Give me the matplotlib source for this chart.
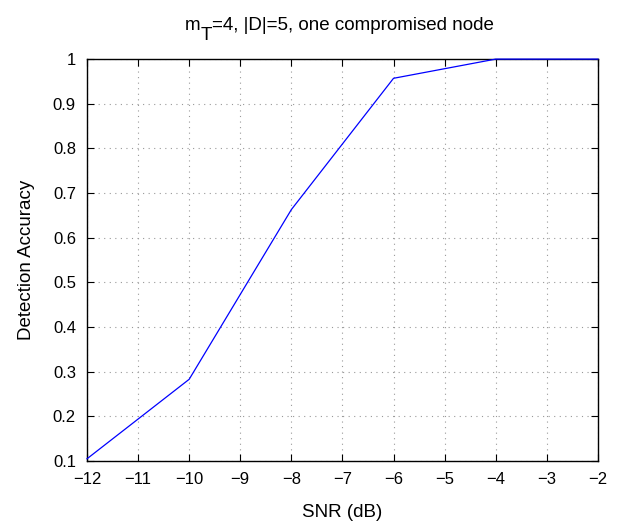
import matplotlib.pyplot as plt

plt.rcParams['font.family'] = ['Liberation Sans', 'DejaVu Sans']

snr_db = [-12, -10, -8, -6, -4, -2]
accuracy = [0.105, 0.283, 0.663, 0.957, 1.0, 1.0]

W, H = 617, 523
fig = plt.figure(figsize=(W / 100, H / 100), dpi=100)
ax = fig.add_axes([0.141, 0.1185, 0.828, 0.7685])

ax.plot(snr_db, accuracy, color='blue', linewidth=0.9, clip_on=False, zorder=5)

ax.set_xlim(-12, -2)
ax.set_ylim(0.1, 1.0)
ax.set_xticks(range(-12, -1))
ax.set_yticks([0.1, 0.2, 0.3, 0.4, 0.5, 0.6, 0.7, 0.8, 0.9, 1.0])
ax.set_yticklabels(['0.1', '0.2', '0.3', '0.4', '0.5', '0.6', '0.7', '0.8', '0.9', '1'])
ax.tick_params(direction='in', top=True, right=True, labelsize=12, length=5, width=0.8)
ax.tick_params(axis='x', pad=8)
ax.tick_params(axis='y', pad=8)
ax.grid(True, linestyle=(0, (1, 4)), color='#999999', linewidth=0.8)
for s in ax.spines.values():
    s.set_linewidth(1.0)

ax.set_xlabel('SNR (dB)', fontsize=13.5, labelpad=12)
ax.set_ylabel('Detection Accuracy', fontsize=13.5, labelpad=13)

# title in pieces: MATLAB-style subscript T, full size and dropped below baseline
r = fig.canvas.get_renderer()
x0, base = 185, 30
t1 = fig.text(x0 / W, 1 - base / H, 'm', fontsize=13.5, va='baseline')
w1 = t1.get_window_extent(renderer=r).width
t2 = fig.text((x0 + w1) / W, 1 - (base + 10) / H, 'T', fontsize=13.5, va='baseline')
w2 = t2.get_window_extent(renderer=r).width
fig.text((x0 + w1 + w2) / W, 1 - base / H, '=4, |D|=5, one compromised node',
         fontsize=13.5, va='baseline')

fig.savefig('out.png', dpi=100)
